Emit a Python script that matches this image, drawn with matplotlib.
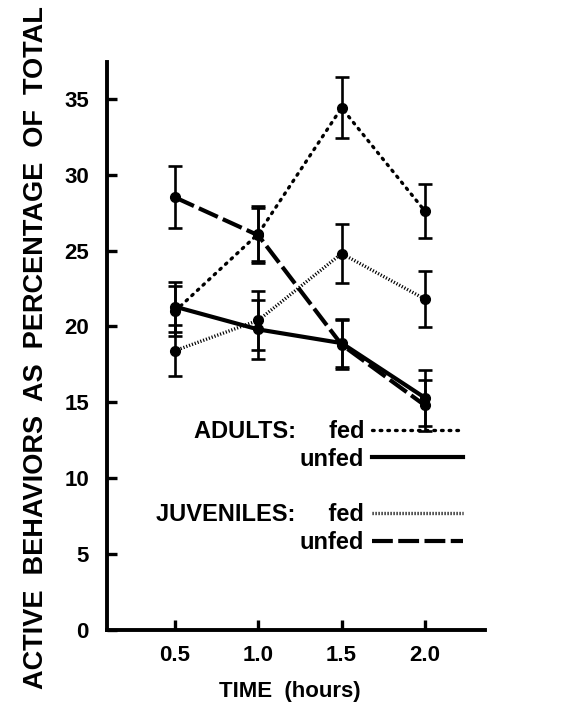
import matplotlib
matplotlib.use("Agg")
import matplotlib.pyplot as plt
from matplotlib.lines import Line2D

plt.rcParams['font.family'] = ['Liberation Sans', 'DejaVu Sans']
plt.rcParams['font.weight'] = 'bold'

time_h = [0.5, 1.0, 1.5, 2.0]

adults_fed = [21.0, 26.1, 34.4, 27.6]
adults_fed_se = [1.65, 1.8, 2.0, 1.8]
adults_unfed = [21.3, 19.8, 18.9, 15.3]
adults_unfed_se = [1.65, 1.95, 1.6, 1.85]
juv_fed = [18.4, 20.4, 24.8, 21.8]
juv_fed_se = [1.7, 1.95, 1.95, 1.85]
juv_unfed = [28.5, 26.0, 18.8, 14.8]
juv_unfed_se = [2.05, 1.8, 1.6, 1.7]

yticks = [0, 5, 10, 15, 20, 25, 30, 35]
xticks = [0.5, 1.0, 1.5, 2.0]
xtick_labels = ['0.5', '1.0', '1.5', '2.0']

# line styles per group
styles = {
    'adults_fed': dict(lw=2.4, ls=(0, (0.5, 1.8)), cap='round'),
    'adults_unfed': dict(lw=3.0, ls='-', cap='butt'),
    'juv_fed': dict(lw=2.4, ls=(0, (0.35, 0.55)), cap='butt'),
    'juv_unfed': dict(lw=3.0, ls=(0, (5.0, 1.3)), cap='butt'),
}

fig = plt.figure(figsize=(5.64, 7.15), dpi=100)
ax = fig.add_axes([0.1897, 0.1189, 0.670, 0.794])

series = [
    ('adults_fed', adults_fed, adults_fed_se),
    ('adults_unfed', adults_unfed, adults_unfed_se),
    ('juv_fed', juv_fed, juv_fed_se),
    ('juv_unfed', juv_unfed, juv_unfed_se),
]

for key, vals, se in series:
    st = styles[key]
    ax.errorbar(time_h, vals, yerr=se, fmt='none', ecolor='black',
                elinewidth=1.9, capsize=5, capthick=1.9, zorder=2)
    ax.plot(time_h, vals, color='black', lw=st['lw'], linestyle=st['ls'],
            dash_capstyle=st['cap'], marker='o', markersize=7,
            markerfacecolor='black', markeredgecolor='black', zorder=3)

ax.set_xlim(0.092, 2.36)
ax.set_ylim(0, 37.4)
ax.set_xticks(xticks)
ax.set_xticklabels(xtick_labels)
ax.set_yticks(yticks)

for side in ['top', 'right']:
    ax.spines[side].set_visible(False)
for side in ['left', 'bottom']:
    ax.spines[side].set_linewidth(2.8)

ax.tick_params(axis='both', direction='in', width=2.4, labelsize=16)
ax.tick_params(axis='x', length=7, pad=11)
ax.tick_params(axis='y', length=7, pad=13)

fig.text(290 / 564, 1 - 691 / 715, 'TIME  (hours)', ha='center', va='center',
         fontsize=16, fontweight='bold')
fig.text(36 / 564, 1 - 348 / 715, 'ACTIVE  BEHAVIORS  AS  PERCENTAGE  OF  TOTAL',
         rotation=90, ha='center', va='center', fontsize=19.5, fontweight='bold')

# legend: text right-aligned, key drawn to the right of it
handles = []
for key in ['adults_fed', 'adults_unfed']:
    st = styles[key]
    handles.append(Line2D([], [], color='black', lw=st['lw'], linestyle=st['ls'],
                          dash_capstyle=st['cap']))
handles.append(Line2D([], [], color='none'))
for key in ['juv_fed', 'juv_unfed']:
    st = styles[key]
    handles.append(Line2D([], [], color='black', lw=st['lw'], linestyle=st['ls'],
                          dash_capstyle=st['cap']))
labels = ['ADULTS:     fed', 'unfed', ' ', 'JUVENILES:     fed', 'unfed']

ax.legend(handles, labels, loc='upper right', bbox_to_anchor=(0.942, 0.37),
          frameon=False, markerfirst=False, handlelength=3.85,
          handletextpad=0.33, labelspacing=0.2, borderpad=0, borderaxespad=0,
          prop={'size': 17, 'weight': 'bold'})

fig.savefig('out.png', dpi=100)
